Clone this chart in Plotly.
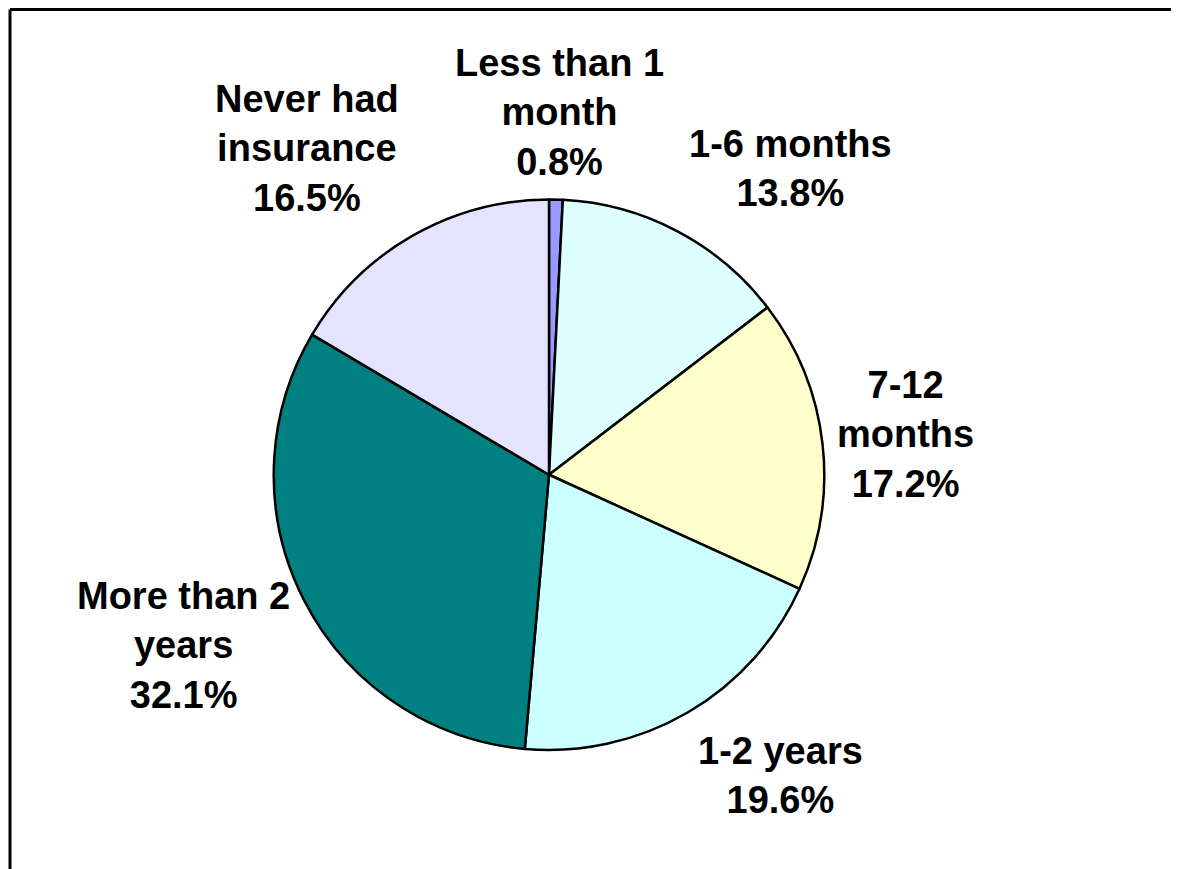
import plotly.graph_objects as go

categories = ["Less than 1 month", "1-6 months", "7-12 months",
              "1-2 years", "More than 2 years", "Never had insurance"]
label_lines = ["Less than 1<br>month", "1-6 months", "7-12<br>months",
               "1-2 years", "More than 2<br>years", "Never had<br>insurance"]
values = [0.8, 13.8, 17.2, 19.6, 32.1, 16.5]
colors = ["#9999FF", "#DDFFFF", "#FFFFCC", "#CCFFFF", "#008080", "#E4E4FF"]

OFF = 8  # page body margin
W, H = 1179 - OFF, 869 - OFF
# label centres in page pixels (layout only)
label_pos = [(559, 112), (790, 168), (905, 435), (780, 775), (183, 645), (307, 148)]


def px(x):
    return (x - OFF) / W


def py(y):
    return 1 - (y - OFF) / H


fig = go.Figure(go.Pie(
    labels=categories, values=values, sort=False, direction="clockwise",
    rotation=0, textinfo="none", hoverinfo="label+percent",
    marker=dict(colors=colors, line=dict(color="black", width=2.5)),
    domain=dict(x=[px(273.5), px(824.5)], y=[py(750), py(199.5)]),
    showlegend=False,
))

annotations = []
for lab, v, (lx, ly) in zip(label_lines, values, label_pos):
    annotations.append(dict(
        x=px(lx), y=py(ly), xref="paper", yref="paper",
        text=f"<b>{lab}<br>{v:.1f}%</b>", showarrow=False,
        xanchor="center", yanchor="middle", align="center",
        font=dict(family="Arial, Liberation Sans, sans-serif", size=38, color="black"),
    ))

fig.update_layout(
    width=W, height=H, margin=dict(l=0, r=0, t=0, b=0),
    paper_bgcolor="white", plot_bgcolor="white",
    annotations=annotations,
    shapes=[
        dict(type="line", xref="paper", yref="paper", x0=px(10), x1=px(10), y0=0, y1=py(9.5),
             line=dict(color="black", width=3)),
        dict(type="line", xref="paper", yref="paper", x0=px(10), x1=1, y0=py(9.5), y1=py(9.5),
             line=dict(color="black", width=3)),
    ],
)
fig.write_html("out.html")
